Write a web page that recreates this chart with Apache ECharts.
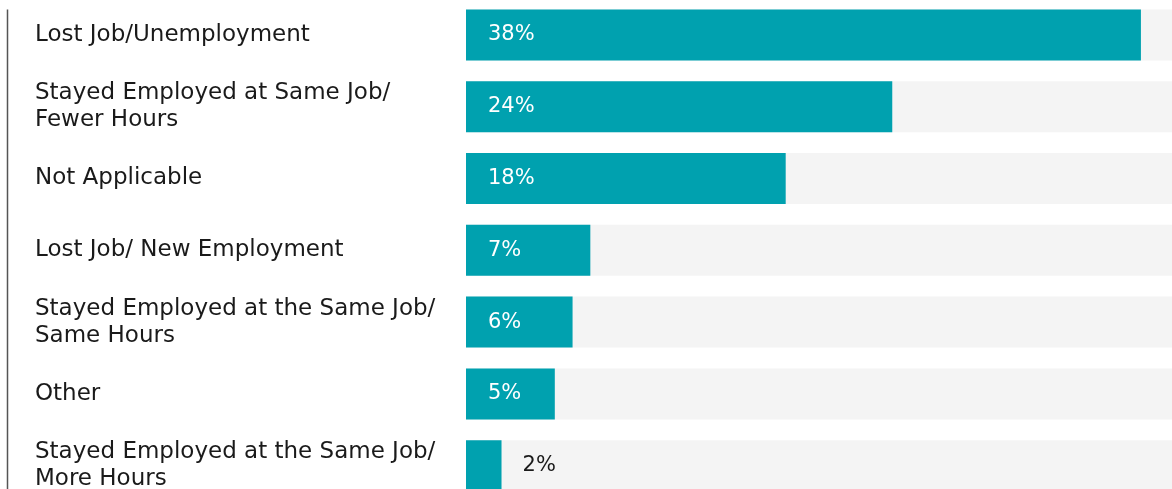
<!DOCTYPE html>
<html>
<head>
<meta charset="utf-8">
<style>
  html, body { margin: 0; padding: 0; background: #ffffff; overflow: hidden; }
  body { width: 1172px; height: 489px; position: relative; }
  #chart { position: absolute; left: 0; top: -1.4px; width: 1172px; height: 520px; }
</style>
<script src="https://cdn.jsdelivr.net/npm/echarts@6/dist/echarts.min.js"></script>
</head>
<body>
<div id="chart"></div>
<script>
// Employment outcomes, share of respondents (%)
const categories = [
  'Lost Job/Unemployment',
  'Stayed Employed at Same Job/\nFewer Hours',
  'Not Applicable',
  'Lost Job/ New Employment',
  'Stayed Employed at the Same Job/\nSame Hours',
  'Other',
  'Stayed Employed at the Same Job/\nMore Hours'
];
const values = [38, 24, 18, 7, 6, 5, 2];

const FONT = '"DejaVu Sans", sans-serif';
const TEAL = '#00a1af';

const chart = echarts.init(document.getElementById('chart'), null, { renderer: 'canvas' });

const labelStyle = {
  align: 'left',
  color: '#1a1a1a',
  fontFamily: FONT,
  fontSize: 23,
  lineHeight: 27
};

// two-line category names sit slightly lower than their bar centre
const categoryData = categories.map(function (c) {
  return c.indexOf('\n') >= 0
    ? { value: c, textStyle: Object.assign({}, labelStyle, { padding: [9, 0, 0, 0] }) }
    : c;
});

const barData = values.map(function (v) {
  const small = v < 4;
  return {
    value: v,
    label: small
      ? { position: 'right', distance: 21, color: '#1a1a1a' }
      : { position: 'insideLeft', distance: 22, color: '#ffffff' }
  };
});

chart.setOption({
  animation: false,
  grid: { left: 466, right: 0, top: 0, height: 502.6, containLabel: false, outerBoundsMode: 'none' },
  xAxis: {
    type: 'value',
    min: 0,
    max: 39.75,
    show: false
  },
  yAxis: {
    type: 'category',
    data: categoryData,
    inverse: true,
    axisLine: { show: false },
    axisTick: { show: false },
    axisLabel: Object.assign({ margin: 431 }, labelStyle)
  },
  series: [{
    type: 'bar',
    data: barData,
    barWidth: 51,
    itemStyle: { color: TEAL },
    showBackground: true,
    backgroundStyle: { color: '#f4f4f4' },
    label: {
      show: true,
      formatter: '{c}%',
      fontFamily: FONT,
      fontSize: 21
    }
  }],
  graphic: [{
    type: 'line',
    shape: { x1: 7.5, y1: 10.4, x2: 7.5, y2: 520 },
    style: { stroke: '#555555', lineWidth: 1.5 }
  }]
});
</script>
</body>
</html>
